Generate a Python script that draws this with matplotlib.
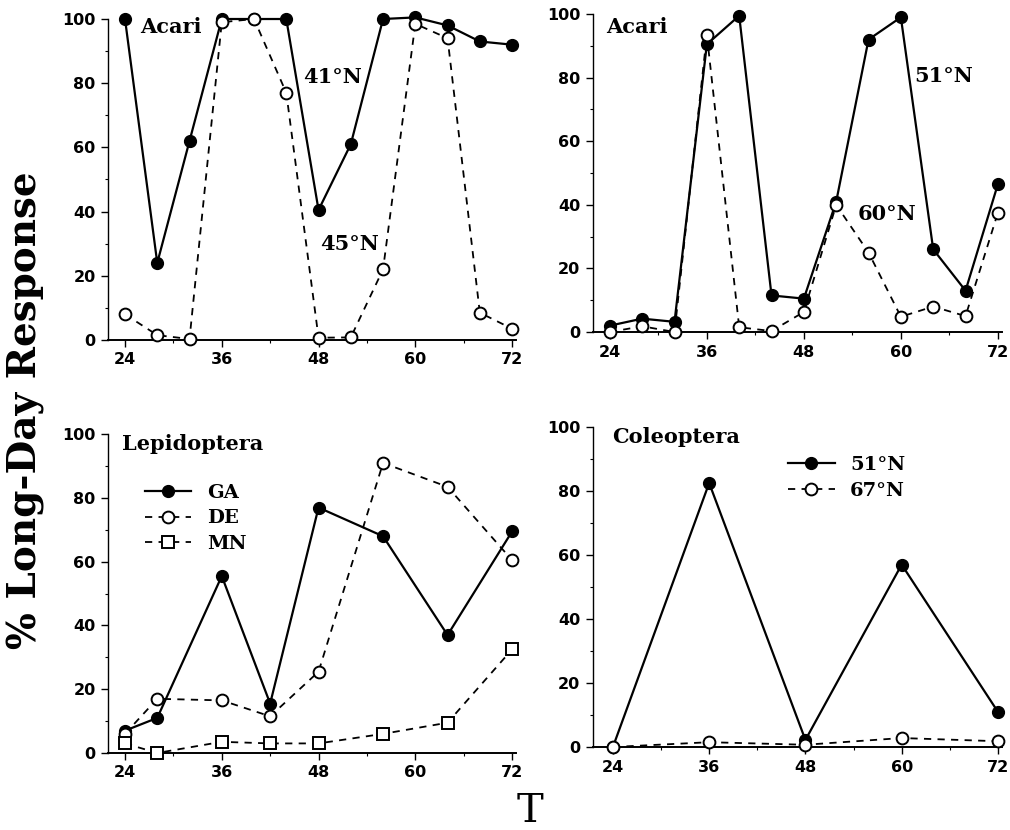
import matplotlib
matplotlib.use("Agg")
import matplotlib.pyplot as plt
from matplotlib.ticker import MultipleLocator

# Acari, 41 N og 45 N (oppe til venstre)
t_acari = [24, 28, 32, 36, 40, 44, 48, 52, 56, 60, 64, 68, 72]
acari_41 = [100, 24, 62, 100, 100, 100, 40.5, 61, 100, 100.5, 98, 93, 92]
acari_45 = [8, 1.5, 0.3, 99, 100, 77, 0.7, 0.8, 22, 98.5, 94, 8.5, 3.5]

# Acari, 51 N og 60 N (oppe til hoyre)
acari_51 = [2, 4.2, 3.2, 90.5, 99.5, 11.5, 10.5, 41, 92, 99, 26, 13, 46.5]
acari_60 = [0, 1.8, 0, 93.5, 1.5, 0.3, 6.3, 40, 25, 4.8, 8, 5, 37.5]

# Lepidoptera (nede til venstre)
t_lep = [24, 28, 36, 42, 48, 56, 64, 72]
lep_ga = [7, 11, 55.5, 15.5, 77, 68, 37, 69.5]
lep_de = [6, 17, 16.5, 11.5, 25.5, 91, 83.5, 60.5]
lep_mn = [3, 0, 3.5, 3, 3, 6, 9.5, 32.5]

# Coleoptera (nede til hoyre)
t_col = [24, 36, 48, 60, 72]
col_51 = [0, 82.5, 2.2, 57, 11]
col_67 = [0, 1.5, 0.7, 2.8, 1.8]

x_ticks = [24, 36, 48, 60, 72]
y_ticks = [0, 20, 40, 60, 80, 100]

serif = "DejaVu Serif"
fig = plt.figure(figsize=(10.1, 8.3), dpi=100)

solid = dict(color="black", linestyle="-", linewidth=1.6, marker="o",
             markersize=8.5, markerfacecolor="black", clip_on=False, zorder=3)
dashed_o = dict(color="black", linestyle=(0, (4, 3.5)), linewidth=1.3, marker="o",
                markersize=8.5, markerfacecolor="white", markeredgewidth=1.4,
                clip_on=False, zorder=4)
dashed_s = dict(color="black", linestyle=(0, (4, 3.5)), linewidth=1.3, marker="s",
                markersize=8, markerfacecolor="white", markeredgewidth=1.4,
                clip_on=False, zorder=4)


def setup(ax, xmin):
    ax.set_xlim(xmin, 72.5)
    ax.set_ylim(0, 100)
    ax.spines["top"].set_visible(False)
    ax.spines["right"].set_visible(False)
    ax.spines["left"].set_linewidth(1.0)
    ax.spines["bottom"].set_linewidth(1.4)
    ax.set_xticks(x_ticks)
    ax.set_yticks(y_ticks)
    ax.xaxis.set_minor_locator(MultipleLocator(6))
    ax.yaxis.set_minor_locator(MultipleLocator(10))
    ax.tick_params(axis="both", which="major", direction="out", length=5,
                   width=1.0, labelsize=11.5, pad=4)
    ax.tick_params(axis="both", which="minor", direction="out", length=2.5, width=0.8)
    for lab in ax.get_xticklabels() + ax.get_yticklabels():
        lab.set_fontweight("bold")


# oppe til venstre
ax1 = fig.add_axes([0.107, 0.5904, 0.404, 0.3867])
setup(ax1, 21.9)
ax1.plot(t_acari, acari_41, **solid)
ax1.plot(t_acari, acari_45, **dashed_o)
ax1.text(25.9, 97.5, "Acari", family=serif, fontweight="bold", fontsize=15, va="center")
ax1.text(46.1, 82, "41°N", family=serif, fontweight="bold", fontsize=15, va="center")
ax1.text(48.2, 30, "45°N", family=serif, fontweight="bold", fontsize=15, va="center")

# oppe til hoyre
ax2 = fig.add_axes([0.587, 0.600, 0.405, 0.383])
setup(ax2, 21.9)
ax2.plot(t_acari, acari_51, **solid)
ax2.plot(t_acari, acari_60, **dashed_o)
ax2.text(23.6, 96, "Acari", family=serif, fontweight="bold", fontsize=15, va="center")
ax2.text(61.7, 80.5, "51°N", family=serif, fontweight="bold", fontsize=15, va="center")
ax2.text(54.7, 37, "60°N", family=serif, fontweight="bold", fontsize=15, va="center")

# nede til venstre
ax3 = fig.add_axes([0.107, 0.0928, 0.404, 0.384])
setup(ax3, 21.9)
ax3.plot(t_lep, lep_ga, label="GA", **solid)
ax3.plot(t_lep, lep_de, label="DE", **dashed_o)
ax3.plot(t_lep, lep_mn, label="MN", **dashed_s)
ax3.text(23.6, 97, "Lepidoptera", family=serif, fontweight="bold", fontsize=15, va="center")
ax3.legend(loc="upper left", bbox_to_anchor=(0.09, 0.845), frameon=False,
           prop=dict(family=serif, weight="bold", size=14), handlelength=2.4,
           handletextpad=0.8, labelspacing=0.4, borderpad=0, borderaxespad=0)

# nede til hoyre
ax4 = fig.add_axes([0.587, 0.100, 0.405, 0.3855])
setup(ax4, 21.5)
ax4.plot(t_col, col_51, label="51°N", **solid)
ax4.plot(t_col, col_67, label="67°N", **dashed_o)
ax4.text(23.9, 97, "Coleoptera", family=serif, fontweight="bold", fontsize=15, va="center")
ax4.legend(loc="upper left", bbox_to_anchor=(0.477, 0.91), frameon=False,
           prop=dict(family=serif, weight="bold", size=14), handlelength=2.4,
           handletextpad=0.8, labelspacing=0.4, borderpad=0, borderaxespad=0)

fig.text(0.026, 0.506, "% Long-Day Response", rotation=90, family=serif,
         fontweight="bold", fontsize=28, ha="center", va="center")
fig.text(0.525, 0.022, "T", family=serif, fontsize=29, ha="center", va="center")

fig.savefig("out.png", dpi=100)
